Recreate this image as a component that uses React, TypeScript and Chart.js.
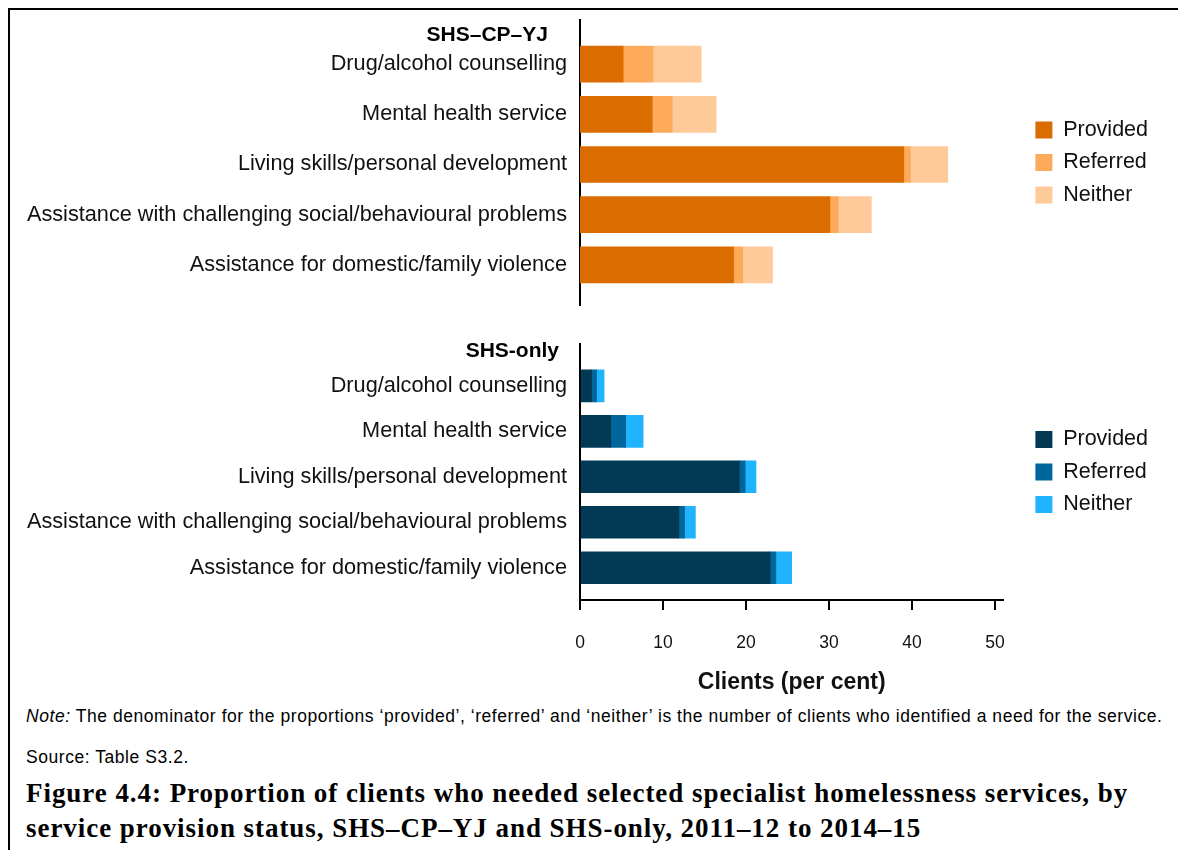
import React, { useEffect, useRef } from "react";
import { Chart, registerables } from "chart.js";

Chart.register(...registerables);

const FONT = "'Liberation Sans', Arial, Helvetica, sans-serif";

const categories = [
  "Drug/alcohol counselling",
  "Mental health service",
  "Living skills/personal development",
  "Assistance with challenging social/behavioural problems",
  "Assistance for domestic/family violence",
];
const seriesNames = ["Provided", "Referred", "Neither"];

const cpyjProvided = [5.2, 8.7, 39.0, 30.1, 18.5];
const cpyjReferred = [3.6, 2.4, 0.8, 1.0, 1.1];
const cpyjNeither = [5.8, 5.3, 4.5, 4.0, 3.6];

const shsProvided = [1.4, 3.7, 19.2, 11.9, 22.9];
const shsReferred = [0.6, 1.8, 0.7, 0.7, 0.7];
const shsNeither = [0.9, 2.1, 1.3, 1.3, 1.9];

const xTicks = [0, 10, 20, 30, 40, 50];

const orangeColors = ["#DB6C00", "#FDAA5A", "#FFCA99"];
const blueColors = ["#023A56", "#00669C", "#20B4FF"];

function buildConfig(
  series: number[][],
  colors: string[],
  yMin: number,
  yMax: number,
  barThickness: number,
  showX: boolean
): any {
  return {
    type: "bar",
    data: {
      datasets: series.map((vals, s) => ({
        label: seriesNames[s],
        data: vals.map((v, i) => ({ x: v, y: i })),
        backgroundColor: colors[s],
        borderWidth: 0,
        barThickness,
      })),
    },
    options: {
      indexAxis: "y",
      animation: false,
      responsive: false,
      maintainAspectRatio: false,
      layout: { padding: { top: 10, bottom: showX ? 0 : 10, left: 0, right: 0 } },
      plugins: {
        legend: {
          position: "right",
          align: "center",
          fullSize: false,
          labels: {
            boxWidth: 17,
            boxHeight: 17,
            padding: 11,
            color: "#111",
            font: { family: FONT, size: 21.5 },
          },
        },
        tooltip: { enabled: false },
        title: { display: false },
      },
      scales: {
        x: {
          type: "linear",
          stacked: true,
          min: 0,
          max: 51,
          display: showX,
          afterBuildTicks: (s: any) => {
            s.ticks = xTicks.map((v) => ({ value: v }));
          },
          grid: {
            drawOnChartArea: false,
            drawTicks: true,
            tickLength: 10,
            color: "#000",
            lineWidth: 2,
          },
          border: { display: true, color: "#000", width: 2 },
          ticks: {
            color: "#111",
            font: { family: FONT, size: 17.5 },
            padding: 23,
            maxRotation: 0,
            autoSkip: false,
          },
          title: {
            display: true,
            text: "Clients (per cent)",
            color: "#111",
            font: { family: FONT, size: 23, weight: "bold" },
            padding: { top: 0, bottom: 4 },
          },
          afterFit: (s: any) => {
            s.height = showX ? 100 : 0;
            s.paddingLeft = 0;
            s.paddingRight = 0;
          },
        },
        y: {
          type: "linear",
          stacked: true,
          reverse: true,
          offset: false,
          min: yMin,
          max: yMax,
          afterBuildTicks: (s: any) => {
            s.ticks = categories.map((_, i) => ({ value: i }));
          },
          grid: { display: false, drawTicks: false },
          border: { display: true, color: "#000", width: 2 },
          ticks: {
            callback: (v: any) => categories[v as number],
            color: "#111",
            font: { family: FONT, size: 21.7 },
            padding: 13,
            autoSkip: false,
          },
          afterFit: (s: any) => {
            s.width = 570;
            s.paddingTop = 0;
            s.paddingBottom = 0;
          },
        },
        y2: {
          type: "linear",
          position: "right",
          display: true,
          grid: { display: false, drawTicks: false },
          border: { display: false },
          ticks: { display: false },
          afterFit: (s: any) => {
            s.width = 21;
            s.paddingTop = 0;
            s.paddingBottom = 0;
          },
        },
      },
    },
  };
}

const TOP_W = 1148;
const TOP_H = 305;
const BOT_H = 366;

export default function App() {
  const topRef = useRef<HTMLCanvasElement>(null);
  const botRef = useRef<HTMLCanvasElement>(null);

  useEffect(() => {
    const top = new Chart(
      topRef.current as HTMLCanvasElement,
      buildConfig([cpyjProvided, cpyjReferred, cpyjNeither], orangeColors, -0.88, 4.8, 36, false)
    );
    const bot = new Chart(
      botRef.current as HTMLCanvasElement,
      buildConfig([shsProvided, shsReferred, shsNeither], blueColors, -0.92, 4.71, 32, true)
    );
    return () => {
      top.destroy();
      bot.destroy();
    };
  }, []);

  const textBase: React.CSSProperties = {
    position: "absolute",
    color: "#000",
    whiteSpace: "nowrap",
  };

  return (
    <div
      style={{
        position: "relative",
        width: 1178,
        height: 842,
        borderTop: "2px solid #000",
        borderLeft: "2px solid #000",
        boxSizing: "border-box",
        background: "#fff",
        fontFamily: FONT,
        overflow: "hidden",
      }}
    >
      <canvas
        ref={topRef}
        width={TOP_W}
        height={TOP_H}
        style={{ position: "absolute", left: 0, top: 0, width: TOP_W, height: TOP_H }}
      />
      <canvas
        ref={botRef}
        width={TOP_W}
        height={BOT_H}
        style={{ position: "absolute", left: 0, top: 324, width: TOP_W, height: BOT_H }}
      />
      <div
        style={{
          ...textBase,
          left: 0,
          top: 12,
          width: 538,
          textAlign: "right",
          fontWeight: "bold",
          fontSize: 21,
          lineHeight: "24px",
        }}
      >
        SHS–CP–YJ
      </div>
      <div
        style={{
          ...textBase,
          left: 0,
          top: 328,
          width: 549,
          textAlign: "right",
          fontWeight: "bold",
          fontSize: 21,
          lineHeight: "24px",
        }}
      >
        SHS-only
      </div>
      <div
        style={{
          ...textBase,
          left: 16,
          top: 696,
          fontSize: 17.5,
          letterSpacing: "0.55px",
          lineHeight: "20px",
        }}
      >
        <i>Note:</i> The denominator for the proportions ‘provided’, ‘referred’ and ‘neither’ is the
        number of clients who identified a need for the service.
      </div>
      <div
        style={{
          ...textBase,
          left: 16,
          top: 737,
          fontSize: 17.5,
          letterSpacing: "0.55px",
          lineHeight: "20px",
        }}
      >
        Source: Table S3.2.
      </div>
      <div
        style={{
          ...textBase,
          left: 16,
          top: 766,
          fontSize: 27,
          lineHeight: "35px",
          letterSpacing: "0.95px",
          fontWeight: "bold",
          fontFamily: "'Liberation Serif', 'Times New Roman', serif",
        }}
      >
        Figure 4.4: Proportion of clients who needed selected specialist homelessness services, by
        <br />
        service provision status, SHS–CP–YJ and SHS-only, 2011–12 to 2014–15
      </div>
    </div>
  );
}
